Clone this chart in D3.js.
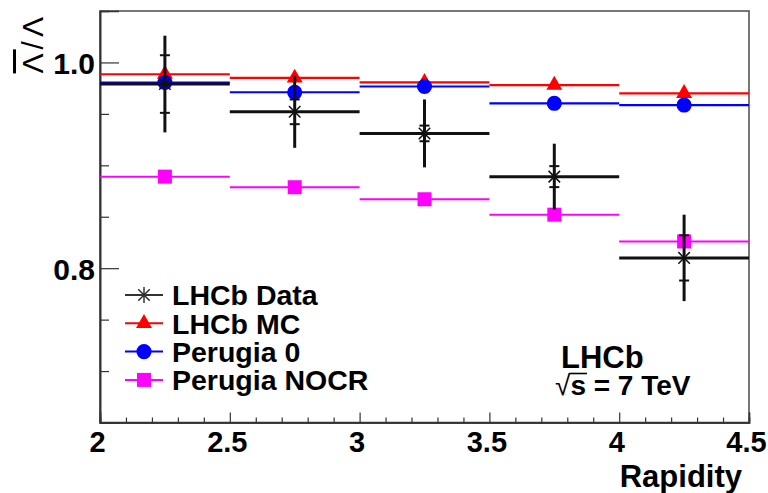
<!DOCTYPE html>
<html>
<head>
<meta charset="utf-8">
<script src="https://cdn.jsdelivr.net/npm/d3@7"></script>
<style>
  html, body { margin: 0; padding: 0; background: #fff; }
  svg { display: block; font-family: "Liberation Sans", Arial, Helvetica, sans-serif; }
</style>
</head>
<body>
<svg id="chart" width="768" height="493"></svg>
<script>
// Rapidity bins
const binEdges = [2.0, 2.5, 3.0, 3.5, 4.0, 4.5];

// Anti-Lambda / Lambda ratio per bin
const dataValues = [0.979, 0.952, 0.931, 0.889, 0.810];
const dataStatErr = [0.028, 0.012, 0.0076, 0.0102, 0.022];
const dataTotalErr = [0.047, 0.035, 0.033, 0.032, 0.042];
const mcValues = [0.9885, 0.985, 0.9807, 0.978, 0.970];
const perugia0Values = [0.9805, 0.971, 0.9766, 0.9603, 0.9586];
const perugiaNocrValues = [0.889, 0.8787, 0.867, 0.852, 0.826];

// Axis ticks
const xMajorTicks = [2, 2.5, 3, 3.5, 4, 4.5];
const xMinorTicks = [2.1, 2.2, 2.3, 2.4, 2.6, 2.7, 2.8, 2.9, 3.1, 3.2, 3.3, 3.4,
                     3.6, 3.7, 3.8, 3.9, 4.1, 4.2, 4.3, 4.4];
const yMajorTicks = [0.8, 1.0];
const yMinorTicks = [0.7, 0.75, 0.85, 0.9, 0.95];

// Legend entries
const legendLabels = ["LHCb Data", "LHCb MC", "Perugia 0", "Perugia NOCR"];

const svg = d3.select("#chart");
const frame = { left: 100, right: 749, top: 11, bottom: 422.5 };

const x = d3.scaleLinear().domain([2, 4.5]).range([frame.left, frame.right]);
const y = d3.scaleLinear().domain([0.65, 1.05]).range([frame.bottom, frame.top]);

const bins = d3.range(binEdges.length - 1).map(i => ({
  lo: binEdges[i], hi: binEdges[i + 1], mid: (binEdges[i] + binEdges[i + 1]) / 2
}));

// Frame box
svg.append("rect")
  .attr("x", frame.left).attr("y", frame.top)
  .attr("width", frame.right - frame.left).attr("height", frame.bottom - frame.top)
  .attr("fill", "none").attr("stroke", "#555").attr("stroke-width", 1.6);

// X axis: majors with labels, minors without
const xAxisMajor = d3.axisBottom(x).tickValues(xMajorTicks).tickSize(-10).tickPadding(9)
  .tickFormat(d3.format(""));
const gx = svg.append("g").attr("transform", `translate(0,${frame.bottom})`).call(xAxisMajor);
const xAxisMinor = d3.axisBottom(x).tickValues(xMinorTicks).tickSize(-5).tickFormat("");
const gx2 = svg.append("g").attr("transform", `translate(0,${frame.bottom})`).call(xAxisMinor);

// Y axis
const yAxisMajor = d3.axisLeft(y).tickValues(yMajorTicks).tickSize(-19).tickPadding(5)
  .tickFormat(d3.format(".1f"));
const gy = svg.append("g").attr("transform", `translate(${frame.left},0)`).call(yAxisMajor);
const yAxisMinor = d3.axisLeft(y).tickValues(yMinorTicks).tickSize(-9).tickFormat("");
const gy2 = svg.append("g").attr("transform", `translate(${frame.left},0)`).call(yAxisMinor);

[gx, gx2, gy, gy2].forEach(g => {
  g.select(".domain").attr("stroke", "#333").attr("stroke-width", 1.6);
  g.selectAll(".tick line").attr("stroke", "#333").attr("stroke-width", 1.2);
});
gx.selectAll(".tick text").attr("fill", "#000").attr("font-size", 29).attr("font-weight", "bold")
  .attr("font-family", "Liberation Sans, Arial, sans-serif").attr("dy", "0.72em").attr("dx", -3);
gy.selectAll(".tick text").attr("fill", "#000").attr("font-size", 30).attr("font-weight", "bold")
  .attr("font-family", "Liberation Sans, Arial, sans-serif").attr("dy", "0.36em");

// Axis titles
svg.append("text")
  .attr("x", 742).attr("y", 487)
  .attr("text-anchor", "end")
  .attr("font-size", 31).attr("font-weight", "bold")
  .text("Rapidity");

const yTitle = svg.append("text")
  .attr("transform", `translate(43,13) rotate(-90)`)
  .attr("text-anchor", "end")
  .attr("font-size", 30)
  .attr("letter-spacing", 4);
yTitle.append("tspan").style("text-decoration", "overline").text("Λ");
yTitle.append("tspan").text("/Λ");

// Marker shapes
function starPath(cx, cy, r) {
  const d = r * 0.72;
  return `M${cx - r},${cy}L${cx + r},${cy}M${cx},${cy - r}L${cx},${cy + r}` +
         `M${cx - d},${cy - d}L${cx + d},${cy + d}M${cx - d},${cy + d}L${cx + d},${cy - d}`;
}
const triangle = d3.symbol().type(d3.symbolTriangle).size(110);
const circle = d3.symbol().type(d3.symbolCircle).size(180);
const square = d3.symbol().type(d3.symbolSquare).size(196);

// Model series: horizontal bin-width bars with markers
function drawModel(values, color, sym, width) {
  const g = svg.append("g");
  g.selectAll("line").data(bins).join("line")
    .attr("x1", d => x(d.lo)).attr("x2", d => x(d.hi))
    .attr("y1", (d, i) => y(values[i])).attr("y2", (d, i) => y(values[i]))
    .attr("stroke", color).attr("stroke-width", width);
  g.selectAll("path").data(bins).join("path")
    .attr("d", sym)
    .attr("transform", (d, i) => `translate(${x(d.mid)},${y(values[i])})`)
    .attr("fill", color);
}

drawModel(perugiaNocrValues, "#ff00ff", square, 2);
drawModel(mcValues, "#ff0000", triangle, 2.2);
drawModel(perugia0Values, "#0000ff", circle, 2.2);

// Data: bin bars, total error bars with statistical error ticks, star markers
const gd = svg.append("g");
gd.selectAll("line.h").data(bins).join("line").attr("class", "h")
  .attr("x1", d => x(d.lo)).attr("x2", d => x(d.hi))
  .attr("y1", (d, i) => y(dataValues[i])).attr("y2", (d, i) => y(dataValues[i]))
  .attr("stroke", "#111").attr("stroke-width", 3);
gd.selectAll("line.v").data(bins).join("line").attr("class", "v")
  .attr("x1", d => x(d.mid)).attr("x2", d => x(d.mid))
  .attr("y1", (d, i) => y(dataValues[i] + dataTotalErr[i]))
  .attr("y2", (d, i) => y(dataValues[i] - dataTotalErr[i]))
  .attr("stroke", "#111").attr("stroke-width", 3);
const statTicks = bins.flatMap((d, i) => [
  { x: d.mid, v: dataValues[i] + dataStatErr[i] },
  { x: d.mid, v: dataValues[i] - dataStatErr[i] }
]);
gd.selectAll("line.s").data(statTicks).join("line").attr("class", "s")
  .attr("x1", d => x(d.x) - 5).attr("x2", d => x(d.x) + 5)
  .attr("y1", d => y(d.v)).attr("y2", d => y(d.v))
  .attr("stroke", "#111").attr("stroke-width", 2);
gd.selectAll("path").data(bins).join("path")
  .attr("d", (d, i) => starPath(x(d.mid), y(dataValues[i]), 8))
  .attr("fill", "none").attr("stroke", "#111").attr("stroke-width", 1.5);

// Legend
const legendColors = ["#333", "#ff0000", "#0000ff", "#ff00ff"];
const legendSymbols = [null, triangle, circle, square];
const lg = svg.append("g");
legendLabels.forEach((label, i) => {
  const cy = 295 + i * 28.3;
  lg.append("line").attr("x1", 125).attr("x2", 163).attr("y1", cy).attr("y2", cy)
    .attr("stroke", legendColors[i]).attr("stroke-width", 2);
  if (legendSymbols[i]) {
    lg.append("path").attr("d", legendSymbols[i]).attr("transform", `translate(144,${cy})`)
      .attr("fill", legendColors[i]);
  } else {
    lg.append("path").attr("d", starPath(144, cy, 8)).attr("fill", "none")
      .attr("stroke", "#333").attr("stroke-width", 1.5);
  }
  lg.append("text").attr("x", 172).attr("y", cy).attr("dy", "0.36em")
    .attr("font-size", 28.5).attr("font-weight", "bold").text(label);
});

// Experiment label
svg.append("text").attr("x", 561).attr("y", 368)
  .attr("font-size", 31).attr("font-weight", "bold").text("LHCb");
const energy = svg.append("text").attr("x", 555).attr("y", 395)
  .attr("font-size", 28).attr("font-weight", "bold");
const rootSign = energy.append("tspan").attr("font-weight", "normal").text("√");
const sArg = energy.append("tspan").text("s");
energy.append("tspan").text(" = 7 TeV");
// vinculum of the square root over "s"
const sBox = sArg.node().getBBox();
svg.append("line")
  .attr("x1", sBox.x - 1).attr("x2", sBox.x + sBox.width + 1)
  .attr("y1", 395 - 21.5).attr("y2", 395 - 21.5)
  .attr("stroke", "#000").attr("stroke-width", 1.6);
</script>
</body>
</html>
